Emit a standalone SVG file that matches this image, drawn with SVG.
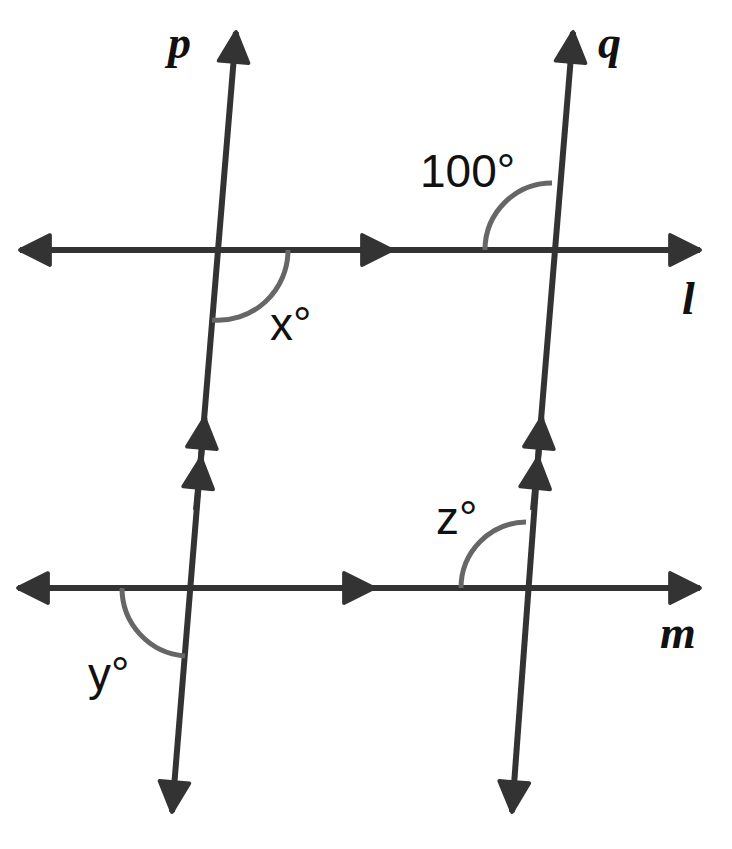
<svg xmlns="http://www.w3.org/2000/svg" width="732" height="849" viewBox="0 0 732 849">
<defs>
<marker id="ah" markerUnits="userSpaceOnUse" markerWidth="40" markerHeight="40" refX="0" refY="0" viewBox="-30 -16 32 32" orient="auto"><path d="M0,0 L-24,-12 L-24,12 z" fill="#333" stroke="#333" stroke-width="3" stroke-linejoin="round"/></marker>
</defs>
<style>
.ln{stroke:#333;stroke-width:6;fill:none}
.arc{stroke:#666;stroke-width:5;fill:none}
.lb{font-family:"Liberation Serif",serif;font-weight:bold;font-style:italic;font-size:46px;fill:#111}
.t{font-family:"Liberation Sans",Arial,sans-serif;font-size:46px;fill:#111}
</style>
<rect width="732" height="849" fill="#fff"/>
<g id="connectors">
<path class="ln" d="M300,250 L20,250" marker-end="url(#ah)"/>
<path class="ln" d="M300,250 L700,250" marker-end="url(#ah)"/>
<path class="ln" d="M200,250 L392,250" marker-end="url(#ah)"/>
<path class="ln" d="M300,588 L18,588" marker-end="url(#ah)"/>
<path class="ln" d="M300,588 L700,588" marker-end="url(#ah)"/>
<path class="ln" d="M200,588 L374,588" marker-end="url(#ah)"/>
<path class="ln" d="M204,420 L236,32" marker-end="url(#ah)"/>
<path class="ln" d="M204,420 L172,812" marker-end="url(#ah)"/>
<path class="ln" d="M200,470 L204.5,418" marker-end="url(#ah)"/>
<path class="ln" d="M196,510 L201,458" marker-end="url(#ah)"/>
<path class="ln" d="M541,420 L573,32" marker-end="url(#ah)"/>
<path class="ln" d="M541,420 L512,812" marker-end="url(#ah)"/>
<path class="ln" d="M537,470 L541.5,418" marker-end="url(#ah)"/>
<path class="ln" d="M533,510 L538,458" marker-end="url(#ah)"/>
</g>
<g id="angles">
<path class="arc" d="M485,250 A67,67 0 0 1 552,183"/>
<path class="arc" d="M288,250 A70,70 0 0 1 212,320"/>
<path class="arc" d="M122,588 A68,68 0 0 0 185,656"/>
<path class="arc" d="M461,588 A66,66 0 0 1 526,522"/>
</g>
<g id="labels">
<text class="lb" x="168" y="58">p</text>
<text class="lb" x="598" y="58">q</text>
<text class="lb" x="682" y="314">l</text>
<text class="lb" x="660" y="648">m</text>
<text class="t" x="270" y="340">x°</text>
<text class="t" x="420" y="187">100°</text>
<text class="t" x="88" y="690">y°</text>
<text class="t" x="436" y="534">z°</text>
</g>
</svg>
